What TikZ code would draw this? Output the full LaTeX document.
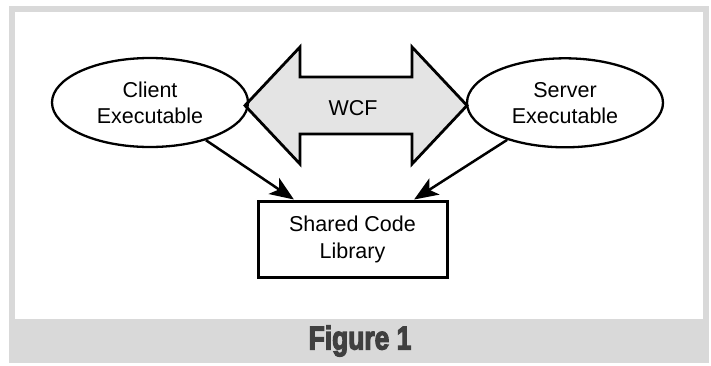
\documentclass[tikz,border=0pt]{standalone}
\usepackage{fontspec}
\setmainfont{Liberation Sans}
\usetikzlibrary{shapes.geometric,arrows.meta}
\definecolor{framegray}{HTML}{D9D9D9}
\definecolor{arrowgray}{HTML}{E4E4E4}
\definecolor{captiongray}{HTML}{404040}
\tikzset{
  exe/.style={ellipse, draw, line width=2.3pt, minimum width=196pt, minimum height=89pt,
    inner sep=0pt, align=center, font=\fontsize{21.5}{26}\selectfont},
  libbox/.style={rectangle, draw, line width=3pt, minimum width=189pt, minimum height=76pt,
    inner sep=0pt, align=center, font=\fontsize{21.5}{27}\selectfont},
  dep/.style={line width=2.5pt, -{Stealth[length=24pt,width=19pt,inset=6pt]}},
  wcfarrow/.style={draw, line width=2.8pt, fill=arrowgray, line join=miter, miter limit=10},
}
\begin{document}
\begin{tikzpicture}[x=1pt,y=-1pt]
\useasboundingbox (0,0) rectangle (711,365);
\fill[framegray] (9,6) rectangle (709,363);
\fill[white] (15,12) rectangle (703,319);
% double arrow
\path[wcfarrow] (245,105.5) -- (300,47) -- (300,77) -- (412,77) -- (412,47) -- (467,105.5)
  -- (412,164) -- (412,134) -- (300,134) -- (300,164) -- cycle;
\node[font=\fontsize{21.5}{26}\selectfont] (wcf) at (353,108) {WCF};
\node[exe] (client) at (150,102.5) {Client\\Executable};
\node[exe] (server) at (565,102.8) {Server\\Executable};
\node[libbox] (lib) at (352.5,239) {Shared Code\\Library};
\draw[dep] (client) -- (lib);
\draw[dep] (server) -- (lib);
\node[text=captiongray, font=\bfseries\fontsize{33}{33}\selectfont] (cap) at (360,341)
  {\scalebox{0.8}[1]{\special{pdf:literal q 2 Tr 1.3 w}Figure 1\special{pdf:literal Q}}};
\end{tikzpicture}
\end{document}
